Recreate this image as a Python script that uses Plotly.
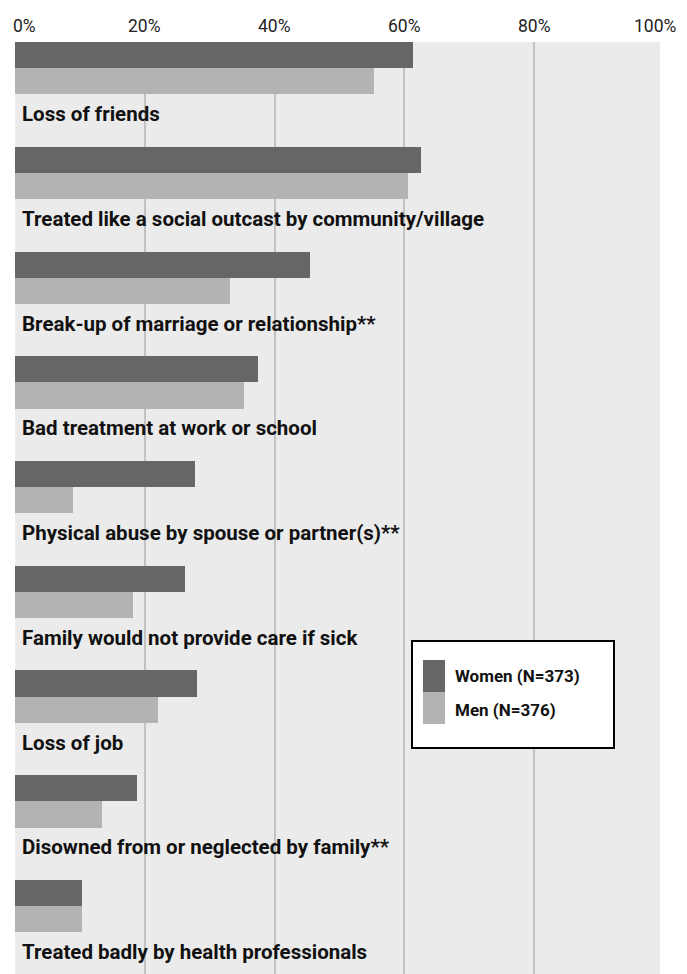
import plotly.graph_objects as go

categories = [
    "Loss of friends",
    "Treated like a social outcast by community/village",
    "Break-up of marriage or relationship**",
    "Bad treatment at work or school",
    "Physical abuse by spouse or partner(s)**",
    "Family would not provide care if sick",
    "Loss of job",
    "Disowned from or neglected by family**",
    "Treated badly by health professionals",
]
women = [61.4, 62.5, 45.5, 37.4, 27.8, 26.2, 28.0, 18.8, 10.3]
men = [55.3, 60.6, 33.2, 35.3, 8.9, 18.2, 22.0, 13.4, 10.3]
series_names = ["Women (N=373)", "Men (N=376)"]
tick_vals = [0, 20, 40, 60, 80, 100]
tick_text = ["0%", "20%", "40%", "60%", "80%", "100%"]

C_WOMEN = "#666666"
C_MEN = "#b3b3b3"
BG = "#ebebeb"
FONT = "Roboto"

W, H = 687, 974
ML, MR, MT, MB = 15, 27, 42, 0
GROUP = 4.0
YMAX = 35.59
XMAX = 99.4

women_y = [i * GROUP + 0.5 for i in range(len(categories))]
men_y = [i * GROUP + 1.5 for i in range(len(categories))]
label_y = [i * GROUP + 2.75 for i in range(len(categories))]

fig = go.Figure()
fig.add_trace(go.Bar(x=women, y=women_y, orientation="h", width=1.0,
                     marker=dict(color=C_WOMEN, line=dict(width=0)),
                     name=series_names[0], showlegend=False))
fig.add_trace(go.Bar(x=men, y=men_y, orientation="h", width=1.0,
                     marker=dict(color=C_MEN, line=dict(width=0)),
                     name=series_names[1], showlegend=False))

annotations = []
for cat, yy in zip(categories, label_y):
    annotations.append(dict(x=0, y=yy, xref="x", yref="y", text="<b>" + cat + "</b>",
                            showarrow=False, xanchor="left", yanchor="middle", xshift=5,
                            font=dict(family=FONT, size=20.5, color="#111111")))

for v, t in zip(tick_vals, tick_text):
    xa = "center"
    xs = 0
    if v == 0:
        xa = "left"
        xs = -4
    if v == 100:
        xs = -8
    annotations.append(dict(x=v / XMAX, y=1, xref="paper", yref="paper", text=t, showarrow=False,
                            xanchor=xa, yanchor="middle", yshift=16, xshift=xs,
                            font=dict(family=FONT, size=17.5, color="#222222")))

# legend (drawn manually)
pw = W - ML - MR
ph = H - MT - MB
def px(x):
    return (x - ML) / pw
def py(y):
    return 1 - (y - MT) / ph

shapes = [
    dict(type="rect", xref="paper", yref="paper", x0=px(412), x1=px(614), y0=py(748), y1=py(641),
         fillcolor="white", line=dict(color="black", width=2), layer="above"),
    dict(type="rect", xref="paper", yref="paper", x0=px(423), x1=px(445), y0=py(692), y1=py(660),
         fillcolor=C_WOMEN, line=dict(width=0), layer="above"),
    dict(type="rect", xref="paper", yref="paper", x0=px(423), x1=px(445), y0=py(724), y1=py(692),
         fillcolor=C_MEN, line=dict(width=0), layer="above"),
]
for name, yy in zip(series_names, [676, 710]):
    annotations.append(dict(x=px(453), y=py(yy), xref="paper", yref="paper",
                            text="<b>" + name + "</b>", showarrow=False,
                            xanchor="left", yanchor="middle",
                            font=dict(family=FONT, size=17, color="#111111")))

fig.update_layout(
    width=W, height=H,
    margin=dict(l=ML, r=MR, t=MT, b=MB, pad=0),
    paper_bgcolor="white", plot_bgcolor=BG,
    barmode="overlay", bargap=0,
    xaxis=dict(range=[0, XMAX], tickvals=tick_vals, showticklabels=False,
               showgrid=True, gridcolor="#c2c2c2", gridwidth=1.5, zeroline=False,
               showline=False, fixedrange=True),
    yaxis=dict(range=[YMAX, 0], showticklabels=False, showgrid=False, zeroline=False,
               showline=False, fixedrange=True),
    annotations=annotations, shapes=shapes,
    font=dict(family=FONT),
)

fig.write_html("out.html")
